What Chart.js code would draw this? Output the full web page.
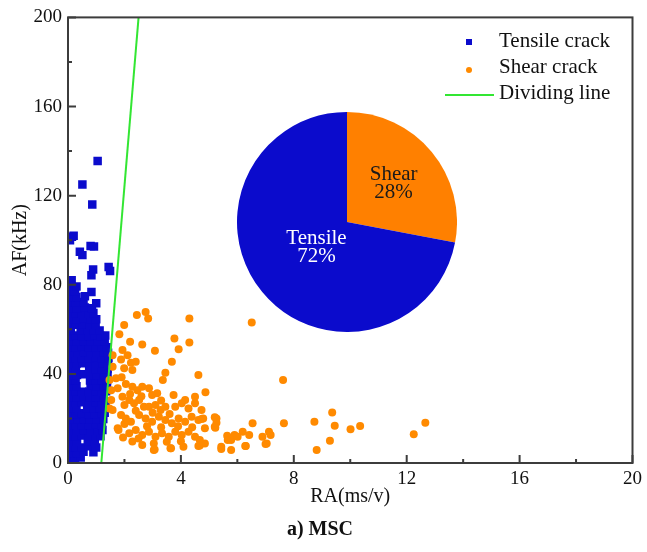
<!DOCTYPE html>
<html>
<head>
<meta charset="utf-8">
<script src="https://cdn.jsdelivr.net/npm/chart.js@4.4.0/dist/chart.umd.min.js"></script>
<style>
html, body { margin:0; padding:0; background:#fff; }
#wrap { position:relative; width:647px; height:552px; }
#cv_scatter { position:absolute; left:0; top:0; }
#cv_pie { position:absolute; left:237px; top:112px; }
</style>
</head>
<body>
<div id="wrap">
  <canvas id="cv_scatter" width="647" height="552"></canvas>
  <canvas id="cv_pie" width="220" height="220"></canvas>
</div>
<script>
// RA (ms/v), AF (kHz)
const tensileCrack = [
  // outliers
  [1.05,135.5],[0.51,125],[0.86,116],[0.07,100],[0.14,101.5],[0.2,102],[0.42,94.8],[0.51,93.3],[0.8,97.4],[0.92,97.2],
  [1.44,88],[1.49,86.2],[0.89,86.8],[0.83,84.3],[0.13,82],[0.07,80.5],[0.24,77.6],[0.83,76.8],[1.0,71.7],
  // dense cloud
  [0.05,2],[0.25,2],[0.45,2.5],
  [0.08,4.5],[0.3,4.5],[0.55,5],[0.9,4.8],
  [0.05,7],[0.28,7.2],[0.5,7],[0.75,7.5],[1.0,7],
  [0.1,9.5],[0.32,9.5],[0.7,9.8],[0.95,9.5],
  [0.05,12],[0.27,12],[0.48,12.3],[0.72,12],[0.98,12.2],[1.15,12],
  [0.08,14.5],[0.3,14.5],[0.55,14.8],[0.8,14.5],[1.05,14.5],[1.22,14.8],
  [0.05,17],[0.26,17.2],[0.5,17],[0.74,17],[0.97,17.3],[1.2,17],
  [0.1,19.5],[0.33,19.5],[0.55,19.8],[0.78,19.5],[1.02,19.5],[1.25,19.8],
  [0.06,22],[0.28,22],[0.5,22.3],[0.72,22],[0.95,22],[1.18,22.2],[1.3,22.5],
  [0.08,24.5],[0.3,24.8],[0.68,24.5],[0.9,24.5],[1.12,24.7],[1.3,24.5],
  [0.05,27],[0.27,27],[0.5,27.3],[0.74,27],[0.98,27.2],[1.2,27],[1.33,27.5],
  [0.1,29.5],[0.32,29.5],[0.55,29.8],[0.78,29.5],[1.0,29.6],[1.25,29.5],
  [0.06,32],[0.28,32.2],[0.5,32],[0.75,32],[0.97,32.3],[1.2,32],[1.35,32.2],
  [0.08,34.5],[0.3,34.5],[0.8,34.8],[1.02,34.5],[1.25,34.5],[1.38,34.8],
  [0.05,37],[0.27,37.2],[0.78,37],[0.98,37],[1.2,37.3],[1.38,37],
  [0.1,39.5],[0.32,39.5],[0.55,39.8],[0.8,39.5],[1.03,39.5],[1.25,39.7],[1.4,39.5],
  [0.06,42],[0.28,42],[0.75,42.3],[0.97,42],[1.2,42],[1.4,42.2],
  [0.08,44.5],[0.3,44.5],[0.52,44.8],[0.78,44.5],[1.0,44.5],[1.23,44.7],[1.42,44.5],
  [0.05,47],[0.27,47.2],[0.5,47],[0.74,47],[0.98,47.3],[1.2,47],[1.43,47.2],
  [0.1,49.5],[0.33,49.5],[0.55,49.8],[0.8,49.5],[1.02,49.5],[1.25,49.7],[1.42,49.5],
  [0.06,52],[0.28,52],[0.5,52.3],[0.75,52],[0.97,52],[1.2,52.2],[1.38,52],
  [0.08,54.5],[0.32,54.5],[0.55,54.8],[0.8,54.5],[1.05,54.5],[1.3,54.7],
  [0.05,57],[0.27,57.2],[0.5,57],[0.74,57],[0.95,57.3],[1.15,57],[1.32,57.2],
  [0.1,59.5],[0.45,59.5],[0.7,59.8],[0.92,59.5],[1.12,59.5],
  [0.06,62],[0.28,62],[0.52,62.3],[0.78,62],[0.98,62],
  [0.08,64.5],[0.3,64.5],[0.55,64.8],[0.8,64.5],[1.0,64.5],
  [0.05,67],[0.27,67.2],[0.5,67],[0.72,67],[0.9,67.3],
  [0.1,69.5],[0.32,69.5],[0.6,69.8],[0.85,69.5],
  [0.06,72],[0.28,72],[0.55,72.3],
  [0.08,74.5],[0.3,74.5],[0.6,74.8],
  [0.05,77],[0.25,77.2],
  [0.1,79.5],[0.3,79.2]
];

const shearCrack = [
  [2.44,66.4],[2.75,67.8],[2.84,64.9],[4.3,64.9],[6.51,63.1],[1.99,61.9],[1.82,57.8],[2.2,54.4],[2.63,53.2],[3.77,55.9],
  [4.3,54.1],[3.08,50.4],[3.92,51.1],[1.93,50.7],[2.11,48.4],[1.88,46.5],[2.23,45.0],[2.4,45.4],[1.99,42.5],[2.28,41.7],
  [3.68,45.4],[3.45,40.5],[3.36,37.2],[4.62,39.5],[7.62,37.2],[1.7,38.0],[1.58,43.2],[1.76,33.5],[2.28,34.2],[2.46,32.7],
  [2.63,34.2],[2.87,33.5],[2.98,30.5],[3.16,31.3],[3.74,30.5],[4.15,28.3],[4.5,29.7],[4.87,31.7],[1.53,28.3],[1.93,29.7],
  [2.17,28.3],[2.34,26.8],[2.52,28.3],[2.69,25.2],[2.87,25.2],[3.1,26.0],[3.28,23.8],[3.45,25.2],[3.8,25.2],[4.03,26.8],
  [4.27,24.5],[4.5,26.8],[4.73,23.8],[1.47,24.5],[1.88,21.5],[2.05,20.0],[2.23,18.5],[2.52,21.5],[2.75,20.0],[2.98,18.5],
  [3.22,20.8],[3.45,19.3],[3.68,17.8],[3.92,20.0],[4.15,18.5],[4.38,20.8],[4.62,19.3],[4.79,20.0],[5.26,20.0],[5.2,16.3],
  [1.76,15.6],[2.17,13.3],[2.4,14.8],[2.63,12.6],[2.87,14.0],[3.1,11.8],[3.33,13.3],[3.57,11.8],[3.8,14.0],[4.03,12.6],
  [4.27,14.0],[4.5,11.8],[2.28,9.6],[2.63,8.1],[3.04,8.8],[3.63,6.6],[4.09,7.3],[4.85,8.8],[5.43,7.3],[3.04,5.8],
  [4.73,19.7],[5.2,20.5],[5.26,18.1],[4.85,15.6],[5.22,15.8],[4.67,10.3],[4.67,7.8],[6.54,17.8],[7.65,17.8],[8.73,18.5],
  [9.36,22.7],[9.45,16.7],[10.01,15.2],[10.35,16.6],[9.28,10.0],[8.81,5.8],[12.25,12.9],[12.66,18.1],[5.64,12.2],[5.78,10.3],
  [5.9,12.6],[5.43,6.3],[5.78,5.8],[6.28,7.6],[6.19,14.0],[6.42,12.6],[6.89,11.8],[7.12,14.0],[7.18,12.6],[7.0,8.5],
  [3.07,6.1],[3.65,6.6],[4.62,7.6],[6.3,7.6],[7.04,8.8],[1.79,14.8],[6.01,11.8],[5.66,10.3],[1.58,48.4],[1.47,37.2],
  [1.53,32.7],[1.58,23.8],[2.05,35.5],[2.2,31],[2.0,26],[1.9,38.5],[2.6,30],[3.0,22.5],[3.3,28],[3.6,22],
  [2.4,23.5],[2.8,16.5],[3.3,16],[3.9,16.5],[4.4,16],[2.0,17.5],[3.5,9.5],[4.0,9.8],[2.5,11],[1.95,11.5]
];

const dividingLineRA = [1.18, 2.5];
const dividingLineAF = [0, 200];

const xTicks = [0, 4, 8, 12, 16, 20];
const xMinorTicks = [2, 6, 10, 14, 18];
const yTicks = [0, 40, 80, 120, 160, 200];
const yMinorTicks = [20, 60, 100, 140, 180];

const pieLabels = ['Shear', 'Tensile'];
const pieShares = [28, 72];

const BLUE = '#0b0bcc';
const ORANGE = '#ff8a00';
const GREEN = '#33e633';
const AXIS = '#3c3c3c';
const FONT = '"Liberation Serif", "Times New Roman", serif';

let chart_scatter;
let chart_pie;

// frame + inward ticks
const framePlugin = {
    id: 'frame',
    afterDraw(chart) {
        const ctx = chart.ctx;
        const a = chart.chartArea;
        const xs = chart.scales.x, ys = chart.scales.y;
        ctx.save();
        ctx.strokeStyle = AXIS;
        ctx.lineWidth = 2;
        ctx.strokeRect(a.left, a.top, a.right - a.left, a.bottom - a.top);
        ctx.beginPath();
        xTicks.forEach(v => { const p = xs.getPixelForValue(v); ctx.moveTo(p, a.bottom); ctx.lineTo(p, a.bottom - 8); });
        xMinorTicks.forEach(v => { const p = xs.getPixelForValue(v); ctx.moveTo(p, a.bottom); ctx.lineTo(p, a.bottom - 4); });
        yTicks.forEach(v => { const p = ys.getPixelForValue(v); ctx.moveTo(a.left, p); ctx.lineTo(a.left + 8, p); });
        yMinorTicks.forEach(v => { const p = ys.getPixelForValue(v); ctx.moveTo(a.left, p); ctx.lineTo(a.left + 4, p); });
        ctx.stroke();
        ctx.restore();
    }
};

// legend in the top right corner
const legendPlugin = {
    id: 'cornerLegend',
    afterDraw(chart) {
        const ctx = chart.ctx;
        const ds = chart.data.datasets;
        const markX = 469, textX = 499, rows = [41, 67, 93];
        ctx.save();
        ctx.font = '21px ' + FONT;
        ctx.textBaseline = 'middle';
        ctx.textAlign = 'left';
        ds.forEach((d, i) => {
            const y = rows[i];
            if (d.showLine) {
                ctx.strokeStyle = d.borderColor;
                ctx.lineWidth = 2;
                ctx.beginPath();
                ctx.moveTo(445, y + 2);
                ctx.lineTo(494, y + 2);
                ctx.stroke();
            } else if (d.pointStyle === 'rect') {
                ctx.fillStyle = d.backgroundColor;
                ctx.fillRect(markX - 3, y - 2, 6, 6);
            } else {
                ctx.fillStyle = d.backgroundColor;
                ctx.beginPath();
                ctx.arc(markX, y + 3, 3, 0, Math.PI * 2);
                ctx.fill();
            }
            ctx.fillStyle = '#111';
            ctx.fillText(d.label, textX, y);
        });
        ctx.restore();
    }
};

const pieTextPlugin = {
    id: 'pieText',
    afterDatasetsDraw(chart) {
        const ctx = chart.ctx;
        const arcs = chart.getDatasetMeta(0).data;
        const radFrac = [0.55, 0.36];
        const colors = ['#1a1a1a', '#ffffff'];
        ctx.save();
        ctx.font = '21px ' + FONT;
        ctx.textAlign = 'center';
        ctx.textBaseline = 'middle';
        arcs.forEach((arc, i) => {
            const mid = (arc.startAngle + arc.endAngle) / 2;
            const r = arc.outerRadius * radFrac[i];
            const cx = arc.x + Math.cos(mid) * r;
            const cy = arc.y + Math.sin(mid) * r;
            ctx.fillStyle = colors[i];
            ctx.fillText(pieLabels[i], cx, cy - 9);
            ctx.fillText(pieShares[i] + '%', cx, cy + 9);
        });
        ctx.restore();
    }
};

const init_scatter = () => {
    const ctx = document.getElementById('cv_scatter').getContext('2d');
    chart_scatter = new Chart(ctx, {
        type: 'scatter',
        data: {
            datasets: [
                {
                    label: 'Tensile crack',
                    data: tensileCrack.map(p => ({ x: p[0], y: p[1] })),
                    pointStyle: 'rect',
                    pointRadius: 6,
                    backgroundColor: BLUE,
                    borderWidth: 0,
                    order: 2
                },
                {
                    label: 'Shear crack',
                    data: shearCrack.map(p => ({ x: p[0], y: p[1] })),
                    pointStyle: 'circle',
                    pointRadius: 4,
                    backgroundColor: ORANGE,
                    borderWidth: 0,
                    order: 1
                },
                {
                    label: 'Dividing line',
                    data: dividingLineRA.map((x, i) => ({ x: x, y: dividingLineAF[i] })),
                    showLine: true,
                    borderColor: GREEN,
                    borderWidth: 2,
                    pointRadius: 0,
                    order: 0
                }
            ]
        },
        options: {
            responsive: false,
            animation: false,
            layout: { autoPadding: false, padding: { top: 17, right: 7, left: 0, bottom: 0 } },
            plugins: {
                legend: { display: false },
                tooltip: { enabled: false },
                title: {
                    display: true,
                    position: 'bottom',
                    text: 'a) MSC',
                    color: '#111',
                    font: { family: FONT, size: 20, weight: 'bold' },
                    padding: { top: 0, bottom: 10 }
                }
            },
            scales: {
                x: {
                    type: 'linear',
                    min: 0,
                    max: 20,
                    afterBuildTicks: s => { s.ticks = xTicks.map(v => ({ value: v })); },
                    afterFit: s => { s.height = 55; },
                    grid: { display: false, drawTicks: false },
                    border: { display: false },
                    ticks: { color: '#111', padding: 5, maxRotation: 0, font: { family: FONT, size: 19 } },
                    title: {
                        display: true,
                        text: 'RA(ms/v)',
                        color: '#111',
                        font: { family: FONT, size: 20 },
                        padding: { top: 0, bottom: 9 }
                    }
                },
                y: {
                    type: 'linear',
                    min: 0,
                    max: 200,
                    afterBuildTicks: s => { s.ticks = yTicks.map(v => ({ value: v })); },
                    afterFit: s => { s.width = 68; },
                    grid: { display: false, drawTicks: false },
                    border: { display: false },
                    ticks: { color: '#111', padding: 6, font: { family: FONT, size: 19 } },
                    title: {
                        display: true,
                        text: 'AF(kHz)',
                        color: '#111',
                        font: { family: FONT, size: 20 },
                        padding: { top: 9, bottom: 0 }
                    }
                }
            }
        },
        plugins: [framePlugin, legendPlugin]
    });
};

const init_pie = () => {
    const ctx = document.getElementById('cv_pie').getContext('2d');
    chart_pie = new Chart(ctx, {
        type: 'pie',
        data: {
            labels: pieLabels,
            datasets: [{
                data: pieShares,
                backgroundColor: ['#ff8000', BLUE],
                borderWidth: 0
            }]
        },
        options: {
            responsive: false,
            animation: false,
            layout: { padding: 0 },
            plugins: {
                legend: { display: false },
                tooltip: { enabled: false }
            }
        },
        plugins: [pieTextPlugin]
    });
};

init_scatter();
init_pie();
</script>
</body>
</html>
